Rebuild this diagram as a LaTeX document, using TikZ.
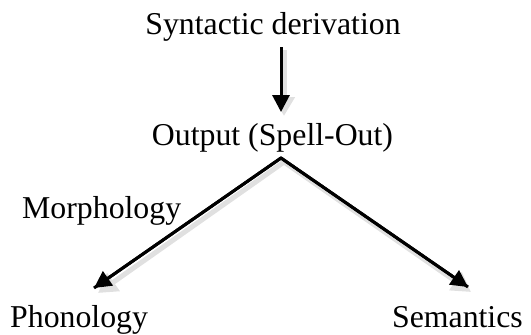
\documentclass[tikz,border=0pt]{standalone}
\usepackage{fontspec}
\setmainfont{Liberation Serif}
\usetikzlibrary{arrows.meta}

\tikzset{
	lbl/.style={inner sep=0pt, font=\fontsize{31.8}{38}\selectfont},
	arr/.style={line width=3pt, -{Triangle[width=17pt,length=17pt]}},
	shd/.style={line width=5pt, color=black!12, -{Triangle[width=21pt,length=19pt]}}
}

\begin{document}
\begin{tikzpicture}[x=1pt, y=-1pt]
			%%%%% START %%%%%
			\useasboundingbox (0, 0) rectangle (531, 335);
			
			\node[lbl, anchor=base] (syn) at (273, 34) {Syntactic derivation};
			\node[lbl, anchor=base] (out) at (272.5, 145) {Output (Spell-Out)};
			\node[lbl, anchor=base west] (morph) at (22, 218) {Morphology};
			\node[lbl, anchor=base west] (phon) at (10, 327) {Phonology};
			\node[lbl, anchor=base east] (sem) at (523, 327) {Semantics};
			
			\coordinate (syntail) at (281, 47);
			\coordinate (outtip) at (281, 112);
			\coordinate (apex) at (281, 158);
			\coordinate (phontip) at (94, 288);
			\coordinate (semtip) at (468, 287);
			
			% shadows
			\draw[shd] ([shift={(3,3)}]syntail) -- ([shift={(3,4)}]outtip);
			\draw[shd] ([shift={(3,4)}]apex) -- ([shift={(4,5)}]phontip);
			\draw[shd] ([shift={(3,4)}]apex) -- ([shift={(3,5)}]semtip);
			
			% arrows
			\draw[arr] (syntail) -- (outtip);
			\draw[line width=3pt, line join=miter] (phontip) -- (apex) -- (semtip);
			\draw[arr] (apex) -- (phontip);
			\draw[arr] (apex) -- (semtip);
			
			%%%%% END %%%%%
\end{tikzpicture}
\end{document}
